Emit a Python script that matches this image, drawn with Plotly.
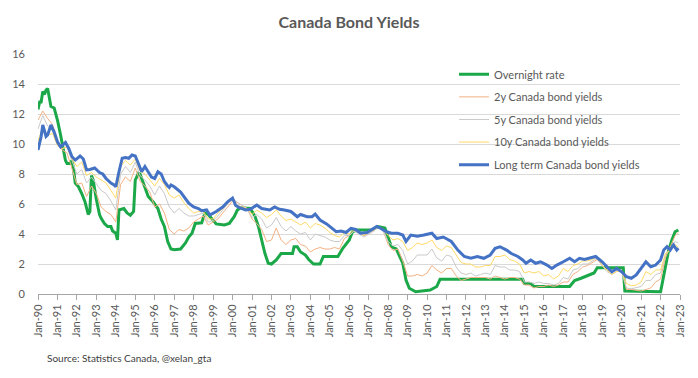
import plotly.graph_objects as go

# ---------------- data ----------------
overnight_dates = ["1990-01","1990-02","1990-03","1990-04","1990-05","1990-06","1990-07","1990-08","1990-09","1990-11",
    "1991-01","1991-03","1991-05","1991-06","1991-07","1991-09","1991-10","1991-11","1991-12",
    "1992-02","1992-04","1992-06","1992-08","1992-09","1992-10","1992-11",
    "1993-01","1993-03","1993-04","1993-06","1993-08","1993-10","1993-11",
    "1994-01","1994-02","1994-03","1994-06","1994-08","1994-10","1994-12",
    "1995-01","1995-03","1995-04","1995-07","1995-09","1995-12",
    "1996-03","1996-05","1996-07","1996-09","1996-11",
    "1997-01","1997-05","1997-08","1997-10","1997-12",
    "1998-02","1998-06","1998-08","1998-10","1998-12",
    "1999-03","1999-08","1999-11",
    "2000-02","2000-04","2000-06","2000-12",
    "2001-03","2001-05","2001-07","2001-09","2001-11",
    "2002-01","2002-04","2002-07","2003-02","2003-03","2003-05","2003-07","2003-10","2003-12",
    "2004-03","2004-07","2004-09","2005-06","2005-09",
    "2006-01","2006-03","2006-06","2007-03","2007-07","2007-11",
    "2008-01","2008-03","2008-06","2008-10","2008-12",
    "2009-02","2009-06","2010-03","2010-07","2010-09",
    "2014-12","2015-01","2015-05","2015-07","2017-05","2017-08","2017-12",
    "2018-04","2018-08","2018-10","2020-02","2020-03",
    "2022-01","2022-02","2022-04","2022-06","2022-08","2022-10","2022-12"]
overnight_rate = [12.3,12.8,12.8,13.5,13.3,13.6,13.7,13.2,12.5,12.4,
    11.6,10.6,9.6,8.9,8.7,8.7,8.9,8.3,7.4,
    7.15,6.7,6.15,5.3,5.5,7.9,7.6,
    6.3,5.3,5.05,4.7,4.5,4.5,4.2,
    4.05,3.6,5.6,5.7,5.4,5.25,5.5,
    7.6,8.05,8.0,7.05,6.5,6.15,
    5.7,5.0,4.5,3.5,3.0,
    2.95,3.0,3.4,3.8,4.05,
    4.7,4.75,5.4,5.3,5.05,
    4.67,4.6,4.7,
    5.15,5.6,5.75,5.7,
    5.15,4.5,3.6,2.7,2.05,
    2.0,2.27,2.7,2.7,3.15,3.15,2.8,2.6,2.3,
    2.0,2.0,2.5,2.5,3.05,
    3.6,4.15,4.27,4.27,4.5,4.4,
    3.8,3.15,3.0,2.05,0.93,
    0.38,0.15,0.27,0.5,0.98,
    0.98,0.7,0.7,0.5,0.5,0.9,1.05,
    1.2,1.4,1.75,1.75,0.2,
    0.15,0.7,1.8,2.9,3.6,4.15,4.27]

long_dates = ["1990-01","1990-03","1990-04","1990-06","1990-07","1990-09","1990-11",
    "1991-01","1991-03","1991-04","1991-06","1991-08","1991-10","1991-12",
    "1992-03","1992-05","1992-07","1992-09","1992-12",
    "1993-03","1993-05","1993-07","1993-10","1993-12",
    "1994-01","1994-03","1994-05","1994-07","1994-09","1994-11",
    "1995-01","1995-03","1995-05","1995-07","1995-09","1995-11",
    "1996-01","1996-03","1996-05","1996-07","1996-09","1996-10","1996-11",
    "1997-01","1997-05","1997-07","1997-10",
    "1998-01","1998-04","1998-06","1998-09","1998-11",
    "1999-03","1999-07","1999-10",
    "2000-01","2000-03","2000-05","2000-09","2000-12",
    "2001-04","2001-07","2001-12","2002-03","2002-06","2002-09",
    "2003-01","2003-05","2003-07","2003-11",
    "2004-02","2004-04","2004-07","2004-11",
    "2005-02","2005-05","2005-08","2005-11",
    "2006-02","2006-05","2006-08","2006-12",
    "2007-03","2007-06","2007-08","2007-12",
    "2008-03","2008-07","2008-10","2008-12",
    "2009-03","2009-07","2009-11",
    "2010-04","2010-07","2010-11",
    "2011-04","2011-08","2011-12",
    "2012-04","2012-08","2012-12",
    "2013-04","2013-07","2013-10",
    "2014-02","2014-05","2014-09","2014-12",
    "2015-02","2015-05","2015-08","2015-11",
    "2016-03","2016-06","2016-09",
    "2017-01","2017-05","2017-08","2017-11",
    "2018-02","2018-05","2018-09",
    "2019-01","2019-04","2019-07","2019-10",
    "2020-01","2020-04","2020-07","2020-10",
    "2021-01","2021-04","2021-07","2021-10",
    "2022-01","2022-03","2022-05","2022-07","2022-09","2022-11","2022-12"]
long_term_yield = [9.6,10.5,11.27,10.5,10.6,11.27,10.8,
    10.15,9.8,9.9,10.1,9.7,9.15,8.93,
    9.2,9.0,8.27,8.3,8.4,
    8.1,8.0,7.7,7.4,7.27,
    7.15,8.15,9.05,9.1,9.05,9.27,
    9.2,8.7,8.15,8.5,8.15,7.8,
    7.7,8.15,8.0,7.5,7.2,7.1,7.27,
    7.15,6.8,6.5,6.05,
    5.8,5.7,5.55,5.6,5.27,
    5.5,5.8,6.15,
    6.4,5.9,5.78,5.6,5.65,
    5.93,5.7,5.6,5.8,5.65,5.6,
    5.5,5.15,5.3,5.15,
    5.15,5.33,4.93,4.67,
    4.38,4.15,4.2,4.1,
    4.38,4.3,4.05,4.1,
    4.3,4.5,4.4,4.15,
    4.05,4.05,3.93,3.5,
    3.93,3.85,3.93,
    4.05,3.7,3.8,
    3.5,2.93,2.5,
    2.38,2.5,2.38,
    2.6,3.05,3.15,
    2.93,2.7,2.5,2.27,
    2.05,2.27,2.05,2.15,
    1.93,1.7,1.93,
    2.15,2.38,2.15,2.38,
    2.3,2.38,2.5,
    2.15,1.82,1.48,1.7,
    1.48,1.15,1.05,1.27,
    1.7,2.15,1.82,1.93,
    2.27,2.93,3.15,2.93,3.27,2.93,3.05]

# quarterly readings (Jan, Apr, Jul, Oct) 1990 .. 2022, plus Dec 2022
quarter_dates = [f"{y}-{m:02d}" for y in range(1990, 2023) for m in (1, 4, 7, 10)] + ["2022-12"]
yield_2y = [11.6,12.2,11.7,11.3, 10.2,9.6,9.4,8.4, 7.3,7.4,6.5,7.2, 6.7,5.8,5.5,5.3,
    4.8,7.3,7.8,7.5, 8.4,7.5,7.2,6.8, 5.8,6.0,5.4,4.3, 4.0,4.3,4.2,4.4,
    4.8,5.0,5.2,4.6, 4.8,5.0,5.4,5.8, 6.2,6.1,5.9,5.7, 5.0,4.7,4.3,3.5,
    3.6,4.4,3.6,3.3, 3.6,3.7,3.3,3.2, 2.8,3.0,3.1,3.0, 3.0,3.1,3.0,3.7,
    3.9,4.2,4.1,3.9, 4.0,4.2,4.5,4.2, 3.3,2.9,3.0,2.2, 1.2,1.2,1.3,1.2,
    1.4,1.9,1.6,1.4, 1.7,1.7,1.2,0.9, 1.0,1.1,1.1,1.1, 1.1,1.0,1.2,1.1,
    1.0,1.1,1.1,1.0, 0.6,0.6,0.4,0.5, 0.5,0.6,0.5,0.6, 0.8,0.8,1.3,1.5,
    1.8,1.9,2.1,2.3, 1.9,1.6,1.5,1.6, 1.6,0.3,0.3,0.25, 0.2,0.3,0.4,0.8,
    1.0,2.4,3.1,3.9, 4.1]
yield_5y = [11.0,11.9,11.2,10.9, 10.0,9.7,9.8,8.9, 8.0,8.3,7.4,7.8, 7.3,6.9,6.7,6.2,
    5.6,8.0,8.5,8.1, 8.8,7.9,7.6,7.2, 6.6,7.2,6.7,5.8, 5.4,5.7,5.4,5.2,
    5.2,5.3,5.4,4.8, 4.9,5.2,5.6,6.0, 6.4,6.1,5.9,5.7, 5.1,5.3,5.0,4.4,
    4.6,5.1,4.5,4.2, 4.5,4.2,4.0,4.1, 3.6,4.0,3.9,3.8, 3.6,3.5,3.5,3.9,
    3.9,4.2,4.0,3.8, 4.0,4.2,4.5,4.2, 3.5,3.2,3.3,2.9, 2.0,2.2,2.6,2.6,
    2.6,3.0,2.4,2.2, 2.6,2.5,1.8,1.4, 1.3,1.4,1.2,1.3, 1.4,1.3,1.9,1.8,
    1.8,1.6,1.6,1.5, 0.8,0.8,0.7,0.8, 0.7,0.7,0.6,0.7, 1.1,1.0,1.6,1.7,
    2.0,2.0,2.2,2.4, 1.9,1.5,1.3,1.5, 1.5,0.4,0.35,0.4, 0.5,0.9,0.9,1.3,
    1.4,2.6,3.0,3.5, 3.4]
yield_10y = [10.2,11.1,10.6,10.7, 9.9,9.7,9.8,9.0, 8.5,8.8,7.9,8.1, 7.8,7.6,7.4,6.9,
    6.4,8.5,8.9,8.6, 9.0,8.2,8.0,7.6, 7.2,7.7,7.3,6.6, 6.4,6.6,6.1,5.7,
    5.4,5.5,5.5,5.0, 5.0,5.4,5.7,6.1, 6.3,5.9,5.8,5.7, 5.3,5.6,5.4,5.1,
    5.3,5.6,5.2,4.9, 5.0,4.8,4.6,4.8, 4.4,4.7,4.6,4.4, 4.1,3.9,3.8,4.1,
    4.0,4.3,4.1,3.9, 4.1,4.3,4.5,4.3, 3.9,3.6,3.7,3.5, 2.9,3.1,3.4,3.3,
    3.4,3.6,3.1,2.9, 3.2,3.1,2.6,2.1, 2.0,2.0,1.8,1.8, 1.9,1.9,2.5,2.5,
    2.6,2.3,2.2,2.0, 1.4,1.5,1.4,1.5, 1.2,1.3,1.0,1.2, 1.7,1.5,1.9,2.0,
    2.2,2.2,2.3,2.5, 1.9,1.6,1.3,1.5, 1.5,0.7,0.55,0.6, 0.8,1.5,1.3,1.6,
    1.6,2.7,2.9,3.3, 3.1]

tick_years = list(range(1990, 2024))
tick_dates = [f"{y}-01-01" for y in tick_years]
tick_labels = [f"Jan-{y % 100:02d}" for y in tick_years]

def d(lst):
    return [s + "-01" for s in lst]

FONT = "Lato"
GREY = "#595959"

fig = go.Figure()
fig.add_trace(go.Scatter(x=d(overnight_dates), y=overnight_rate, name="Overnight rate",
                         mode="lines", line=dict(color="#1BA849", width=3), legendgroup="a"))
fig.add_trace(go.Scatter(x=d(quarter_dates), y=yield_2y, name="2y Canada bond yields",
                         mode="lines", line=dict(color="#F4B183", width=1), legendgroup="b"))
fig.add_trace(go.Scatter(x=d(quarter_dates), y=yield_5y, name="5y Canada bond yields",
                         mode="lines", line=dict(color="#C9C9C9", width=1), legendgroup="c"))
fig.add_trace(go.Scatter(x=d(quarter_dates), y=yield_10y, name="10y Canada bond yields",
                         mode="lines", line=dict(color="#FFD966", width=1), legendgroup="d"))
fig.add_trace(go.Scatter(x=d(long_dates), y=long_term_yield, name="Long term Canada bond yields",
                         mode="lines", line=dict(color="#4472C4", width=3), legendgroup="e"))

fig.update_layout(
    width=698, height=378,
    margin=dict(l=32, r=18, t=54, b=84),
    paper_bgcolor="white", plot_bgcolor="white",
    font=dict(family=FONT, color=GREY, size=11),
    title=dict(text="<b>Canada Bond Yields</b>", x=0.5, xanchor="center",
               y=1 - 22 / 378, yanchor="middle", yref="container",
               font=dict(family=FONT, size=16, color=GREY)),
    legend=dict(x=0.648, y=0.976, xanchor="left", yanchor="top",
                bgcolor="rgba(0,0,0,0)", font=dict(family=FONT, size=11, color=GREY),
                traceorder="grouped", tracegroupgap=3.6, itemwidth=30),
    showlegend=True,
    xaxis=dict(type="date", range=["1990-01-01", "2023-01-01"],
               tickvals=tick_dates, ticktext=tick_labels, tickangle=-90,
               ticks="outside", ticklen=5, tickcolor="#A6A6A6",
               showgrid=False, showline=True, linecolor="#A6A6A6", linewidth=1,
               tickfont=dict(family=FONT, size=11, color=GREY), zeroline=False),
    yaxis=dict(range=[0, 16], dtick=2, showgrid=True, gridcolor="#D9D9D9", gridwidth=1,
               zeroline=False, showline=False, ticks="",
               tickfont=dict(family=FONT, size=11, color=GREY), ticklabelstandoff=12),
    annotations=[dict(text="Source: Statistics Canada, @xelan_gta", xref="paper", yref="paper",
                      x=(39 - 32) / 648, y=(294 - 358) / 240, xanchor="left", yanchor="middle",
                      showarrow=False, font=dict(family=FONT, size=10, color="#404040"))],
)

fig.write_html("out.html", config={"displayModeBar": False},
               post_script="document.body.style.margin='0px';")
